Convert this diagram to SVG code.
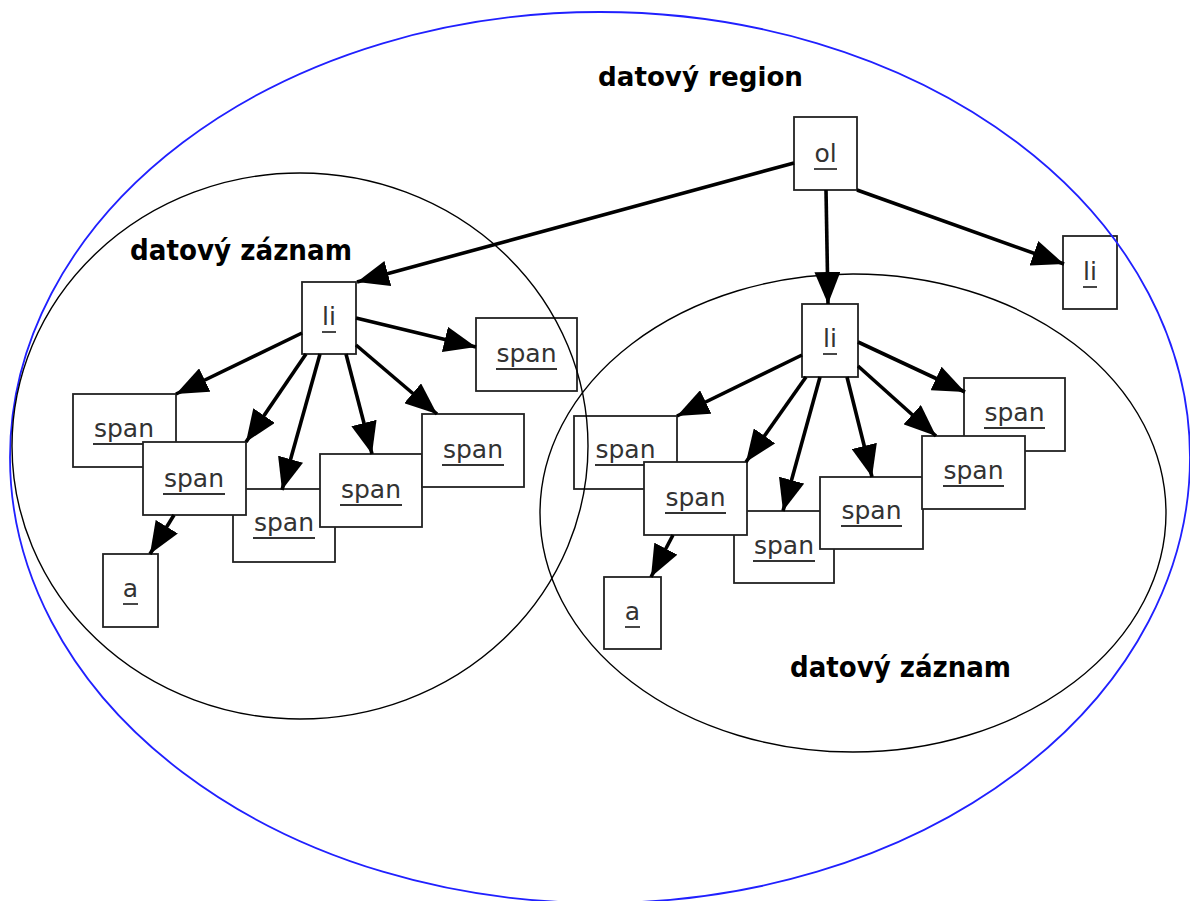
<svg xmlns="http://www.w3.org/2000/svg" width="1190" height="901" viewBox="0 0 1190 901">
<style>
.box{fill:#fff;stroke:#222;stroke-width:1.8}
.lbl{font-family:"DejaVu Sans","Liberation Sans",sans-serif;font-size:25px;fill:#333;text-anchor:middle}
.ul{stroke:#333;stroke-width:1.8}
.title{font-family:"DejaVu Sans","Liberation Sans",sans-serif;font-weight:bold;fill:#000}
.edge{stroke:#000;stroke-width:3.6;fill:none;marker-end:url(#arr)}
.rec{fill:none;stroke:#000;stroke-width:1.4}
.reg{fill:none;stroke:#2020ff;stroke-width:1.8}
</style>
<defs>
<marker id="arr" markerUnits="userSpaceOnUse" markerWidth="32" markerHeight="26" refX="32" refY="13" orient="auto" viewBox="0 0 32 26">
<path d="M0,0 L32,13 L0,26 z" fill="#000"/>
</marker>
</defs>
<rect width="1190" height="901" fill="#fff"/>

<g id="node-ol"><rect class="box" x="794" y="117" width="63" height="73"/><text class="lbl" x="825.5" y="162">ol</text><line class="ul" x1="814" y1="169" x2="837" y2="169"/></g>
<g id="node-li-top-right"><rect class="box" x="1063" y="236" width="54" height="73"/><text class="lbl" x="1090" y="280">li</text><line class="ul" x1="1083" y1="287" x2="1097" y2="287"/></g>
<g id="node-li-left"><rect class="box" x="302" y="282" width="54" height="72"/><text class="lbl" x="329" y="325">li</text><line class="ul" x1="322" y1="332" x2="336" y2="332"/></g>
<g id="node-span-top"><rect class="box" x="476" y="318" width="101" height="73"/><text class="lbl" x="526.5" y="362">span</text><line class="ul" x1="496" y1="369" x2="557" y2="369"/></g>
<g id="node-span-l1"><rect class="box" x="73" y="394" width="103" height="73"/><text class="lbl" x="124" y="437">span</text><line class="ul" x1="93" y1="444" x2="155" y2="444"/></g>
<g id="node-span-l3"><rect class="box" x="233" y="489" width="102" height="73"/><text class="lbl" x="284" y="531">span</text><line class="ul" x1="253" y1="538" x2="315" y2="538"/></g>
<g id="node-span-l2"><rect class="box" x="143" y="442" width="103" height="73"/><text class="lbl" x="194" y="487">span</text><line class="ul" x1="163" y1="494" x2="225" y2="494"/></g>
<g id="node-span-l4"><rect class="box" x="320" y="454" width="102" height="73"/><text class="lbl" x="371" y="498">span</text><line class="ul" x1="340" y1="505" x2="402" y2="505"/></g>
<g id="node-span-l5"><rect class="box" x="422" y="414" width="102" height="73"/><text class="lbl" x="473" y="458">span</text><line class="ul" x1="442" y1="465" x2="504" y2="465"/></g>
<g id="node-a-left"><rect class="box" x="103" y="554" width="55" height="73"/><text class="lbl" x="130.5" y="597">a</text><line class="ul" x1="123" y1="604" x2="138" y2="604"/></g>

<g id="node-li-right"><rect class="box" x="802" y="304" width="56" height="73"/><text class="lbl" x="830" y="347">li</text><line class="ul" x1="823" y1="354" x2="837" y2="354"/></g>
<g id="node-span-r1"><rect class="box" x="574" y="416" width="103" height="73"/><text class="lbl" x="625.5" y="458">span</text><line class="ul" x1="595" y1="465" x2="656" y2="465"/></g>
<g id="node-span-r6"><rect class="box" x="964" y="378" width="101" height="73"/><text class="lbl" x="1014.5" y="421">span</text><line class="ul" x1="984" y1="428" x2="1045" y2="428"/></g>
<g id="node-span-r3"><rect class="box" x="734" y="511" width="100" height="72"/><text class="lbl" x="784" y="554">span</text><line class="ul" x1="753" y1="561" x2="815" y2="561"/></g>
<g id="node-span-r2"><rect class="box" x="644" y="462" width="103" height="73"/><text class="lbl" x="695.5" y="506">span</text><line class="ul" x1="665" y1="513" x2="726" y2="513"/></g>
<g id="node-span-r4"><rect class="box" x="820" y="477" width="103" height="72"/><text class="lbl" x="871.5" y="519">span</text><line class="ul" x1="841" y1="526" x2="902" y2="526"/></g>
<g id="node-span-r5"><rect class="box" x="922" y="436" width="103" height="73"/><text class="lbl" x="973.5" y="479">span</text><line class="ul" x1="943" y1="486" x2="1004" y2="486"/></g>
<g id="node-a-right"><rect class="box" x="604" y="577" width="57" height="72"/><text class="lbl" x="632.5" y="620">a</text><line class="ul" x1="625" y1="627" x2="640" y2="627"/></g>

<g id="region-data">
<ellipse class="reg" cx="600" cy="457.5" rx="590" ry="445.5"/>
<text class="title" x="598" y="86" font-size="26" textLength="205" lengthAdjust="spacingAndGlyphs">datový region</text>
</g>
<g id="record-left">
<ellipse class="rec" cx="300" cy="446" rx="288" ry="273"/>
<text class="title" x="130" y="260" font-size="28" textLength="222" lengthAdjust="spacingAndGlyphs">datový záznam</text>
</g>
<g id="record-right">
<ellipse class="rec" cx="853" cy="513" rx="313" ry="239"/>
<text class="title" x="790" y="677" font-size="28" textLength="221" lengthAdjust="spacingAndGlyphs">datový záznam</text>
</g>

<g id="connectors">
<line class="edge" x1="794" y1="163" x2="357" y2="282"/>
<line class="edge" x1="826" y1="190" x2="828" y2="304"/>
<line class="edge" x1="857" y1="190" x2="1064" y2="264"/>
<line class="edge" x1="356" y1="318" x2="476" y2="347"/>
<line class="edge" x1="302" y1="333" x2="176" y2="394"/>
<line class="edge" x1="306" y1="354" x2="246" y2="442"/>
<line class="edge" x1="320" y1="354" x2="282" y2="490"/>
<line class="edge" x1="346" y1="354" x2="372" y2="454"/>
<line class="edge" x1="356" y1="345" x2="437" y2="414"/>
<line class="edge" x1="174" y1="515" x2="150" y2="554"/>
<line class="edge" x1="802" y1="355" x2="677" y2="416"/>
<line class="edge" x1="806" y1="377" x2="746" y2="462"/>
<line class="edge" x1="820" y1="377" x2="783" y2="511"/>
<line class="edge" x1="847" y1="377" x2="872" y2="477"/>
<line class="edge" x1="858" y1="366" x2="936" y2="436"/>
<line class="edge" x1="858" y1="342" x2="965" y2="392"/>
<line class="edge" x1="673" y1="535" x2="651" y2="577"/>
</g>
</svg>
